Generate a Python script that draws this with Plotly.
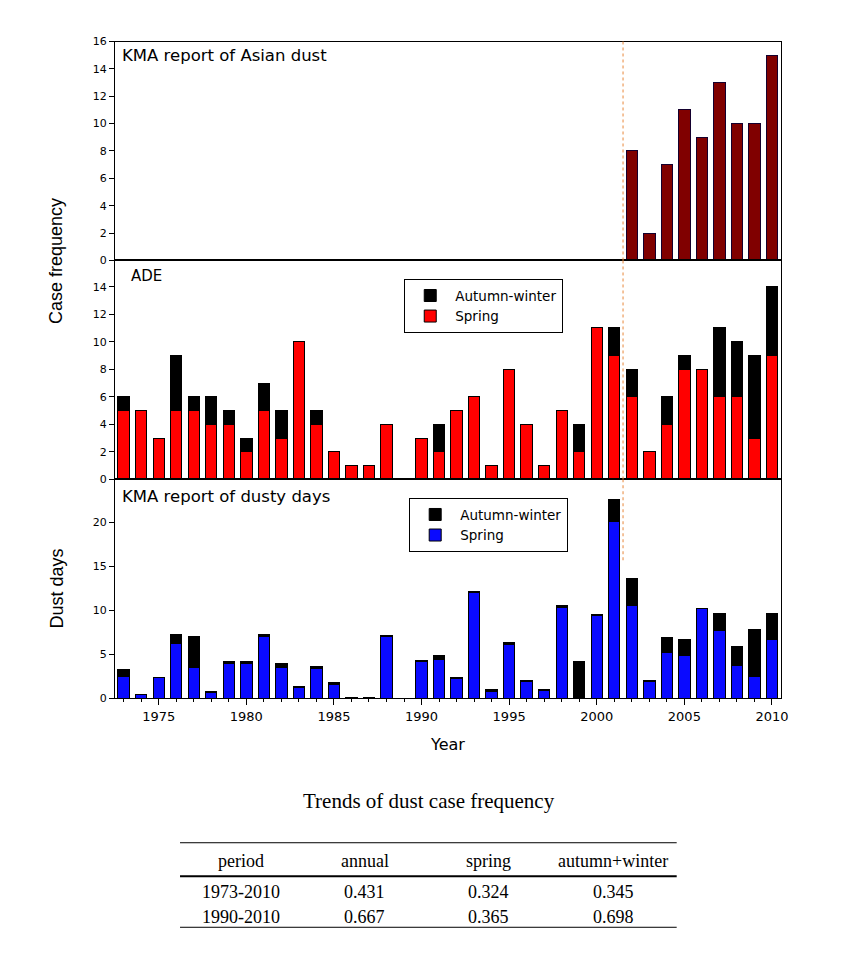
import plotly.graph_objects as go

# ---------------- data ----------------
years = list(range(1973, 2011))

# KMA report of Asian dust (2002-2010)
asian_years = list(range(2002, 2011))
asian_cases = [8, 2, 7, 11, 9, 13, 10, 10, 15]

# ADE case frequency (1973-2010)
ade_spring = [5, 5, 3, 5, 5, 4, 4, 2, 5, 3, 10, 4, 2, 1, 1, 4, 0,
              3, 2, 5, 6, 1, 8, 4, 1, 5, 2, 11, 9, 6, 2, 4, 8, 8, 6, 6, 3, 9]
ade_autumn_winter = [1, 0, 0, 4, 1, 2, 1, 1, 2, 2, 0, 1, 0, 0, 0, 0, 0,
                     0, 2, 0, 0, 0, 0, 0, 0, 0, 2, 0, 2, 2, 0, 2, 1, 0, 5, 4, 6, 5]

# KMA report of dusty days (1973-2010)
dust_spring = [2.5, 0.4, 2.3, 6.2, 3.5, 0.6, 4.0, 4.0, 7.05, 3.5, 1.25, 3.4, 1.6, 0.1, 0.1, 7.05, 0,
               4.15, 4.4, 2.25, 12.0, 0.8, 6.15, 1.9, 0.85, 10.3, 0, 9.45, 20.15, 10.6, 1.9, 5.15,
               4.9, 10.15, 7.7, 3.7, 2.45, 6.65]
dust_autumn_winter = [0.75, 0, 0.1, 1.1, 3.5, 0.15, 0.15, 0.15, 0.25, 0.4, 0.05, 0.15, 0.15, 0, 0, 0.1, 0,
                      0.1, 0.4, 0.15, 0.1, 0.2, 0.15, 0.1, 0.15, 0.2, 4.15, 0.05, 2.45, 3.0, 0.1, 1.75,
                      1.8, 0.1, 1.9, 2.2, 5.35, 2.95]

split_year = 2001.5
split_line_bottom_end = 15.7   # where the dotted line stops in the lower panel

# trend table
table_title = "Trends of dust case frequency"
table_header = ["period", "annual", "spring", "autumn+winter"]
table_periods = ["1973-2010", "1990-2010"]
trend_annual = ["0.431", "0.667"]
trend_spring = ["0.324", "0.365"]
trend_autumn_winter = ["0.345", "0.698"]

# ---------------- layout helpers ----------------
W, H = 867, 954
def px(x):
    return x / W
def py(y):
    return 1 - y / H

x_dom = [px(116), px(788)]
x_rng = [1972.5, 2010.5]
top_dom = [py(258), py(36)]
mid_dom = [py(480), py(258)]
bot_dom = [py(701.7), py(480)]

SANS = "DejaVu Sans"
TICKFONT = dict(family=SANS, size=11, color="black")

fig = go.Figure()

fig.add_trace(go.Bar(x=asian_years, y=asian_cases, xaxis="x", yaxis="y",
                     marker=dict(color="#800000", line=dict(color="#14002e", width=1)),
                     showlegend=False, name="KMA Asian dust"))

fig.add_trace(go.Bar(x=years, y=ade_spring, xaxis="x2", yaxis="y2", name="Spring",
                     marker=dict(color="#ff0000", line=dict(color="black", width=1)),
                     legend="legend"))
fig.add_trace(go.Bar(x=years, y=ade_autumn_winter, xaxis="x2", yaxis="y2", name="Autumn-winter",
                     marker=dict(color="black", line=dict(color="black", width=1)),
                     legend="legend"))

fig.add_trace(go.Bar(x=years, y=dust_spring, xaxis="x3", yaxis="y3", name="Spring",
                     marker=dict(color="#0a0aff", line=dict(color="black", width=1)),
                     legend="legend2"))
fig.add_trace(go.Bar(x=years, y=dust_autumn_winter, xaxis="x3", yaxis="y3", name="Autumn-winter",
                     marker=dict(color="black", line=dict(color="black", width=1)),
                     legend="legend2"))

common_x = dict(domain=x_dom, range=x_rng, showline=True, linecolor="black", linewidth=1,
                mirror=True, showgrid=False, zeroline=False)
common_y = dict(showline=True, linecolor="black", linewidth=1, mirror=True, showgrid=False,
                zeroline=False, ticks="outside", ticklen=5, tickcolor="black", tickwidth=1,
                tickfont=TICKFONT)

legend_style = dict(bgcolor="white", bordercolor="black", borderwidth=1,
                    font=dict(family=SANS, size=13.5, color="black"),
                    traceorder="reversed", xanchor="left", yanchor="top",
                    itemwidth=40, tracegroupgap=0)

fig.update_layout(
    width=W, height=H, autosize=False,
    margin=dict(l=0, r=0, t=0, b=0),
    paper_bgcolor="white", plot_bgcolor="white",
    barmode="stack", bargap=0.35,
    xaxis=dict(**common_x, anchor="y", showticklabels=False, ticks=""),
    xaxis2=dict(**common_x, anchor="y2", showticklabels=False, ticks=""),
    xaxis3=dict(**common_x, anchor="y3", ticks="outside", tick0=1975, dtick=5, ticklen=6,
                tickcolor="black", tickfont=dict(family=SANS, size=13, color="black"),
                minor=dict(dtick=1, ticks="outside", ticklen=3, tickcolor="black")),
    yaxis=dict(**common_y, domain=top_dom, anchor="x", range=[0, 16], dtick=2),
    yaxis2=dict(**common_y, domain=mid_dom, anchor="x2", range=[0, 15.9], dtick=2,
                tickvals=[0, 2, 4, 6, 8, 10, 12, 14]),
    yaxis3=dict(**common_y, domain=bot_dom, anchor="x3", range=[0, 24.9], dtick=5),
    legend=dict(**legend_style, x=px(408), y=py(277)),
    legend2=dict(**legend_style, x=px(413), y=py(499)),
)

# dotted split line
line_style = dict(color="#e8883a", width=1, dash="dot")
fig.add_shape(type="line", xref="x", yref="y domain", x0=split_year, x1=split_year, y0=0, y1=1,
              line=line_style)
fig.add_shape(type="line", xref="x2", yref="y2 domain", x0=split_year, x1=split_year, y0=0, y1=1,
              line=line_style)
fig.add_shape(type="line", xref="x3", yref="y3", x0=split_year, x1=split_year,
              y0=split_line_bottom_end, y1=24.9, line=line_style)

# panel labels
panel_font = dict(family=SANS, size=16.5, color="black")
fig.add_annotation(text="KMA report of Asian dust", xref="paper", yref="paper",
                   x=px(121), y=py(50), xanchor="left", yanchor="middle", showarrow=False,
                   font=panel_font)
fig.add_annotation(text="ADE", xref="paper", yref="paper",
                   x=px(130), y=py(274), xanchor="left", yanchor="middle", showarrow=False,
                   font=dict(family=SANS, size=15, color="black"))
fig.add_annotation(text="KMA report of dusty days", xref="paper", yref="paper",
                   x=px(121), y=py(497), xanchor="left", yanchor="middle", showarrow=False,
                   font=panel_font)

# axis titles
title_font = dict(family="Liberation Sans", size=18, color="black")
fig.add_annotation(text="Case frequency", xref="paper", yref="paper", x=px(57), y=py(258),
                   textangle=-90, showarrow=False, font=title_font,
                   xanchor="center", yanchor="middle")
fig.add_annotation(text="Dust days", xref="paper", yref="paper", x=px(57), y=py(590),
                   textangle=-90, showarrow=False, font=title_font,
                   xanchor="center", yanchor="middle")
fig.add_annotation(text="Year", xref="paper", yref="paper", x=px(452), y=py(749),
                   showarrow=False, font=dict(family=SANS, size=16, color="black"),
                   xanchor="center", yanchor="middle")

# ---------------- trend table ----------------
SERIF = "Liberation Serif"
fig.add_annotation(text=table_title, xref="paper", yref="paper", x=px(433), y=py(806),
                   showarrow=False, font=dict(family=SERIF, size=21, color="black"),
                   xanchor="center", yanchor="middle")
col_x = [243, 368, 493, 619]
row_y = [866.7, 898.3, 924]
rows = [table_header] + [list(r) for r in zip(table_periods, trend_annual, trend_spring,
                                                 trend_autumn_winter)]
for ry, row in zip(row_y, rows):
    for cx, txt in zip(col_x, row):
        fig.add_annotation(text=txt, xref="paper", yref="paper", x=px(cx), y=py(ry),
                           showarrow=False, font=dict(family=SERIF, size=18, color="black"),
                           xanchor="center", yanchor="middle")
for yline, lw in [(848.3, 1), (882.3, 2), (934, 1)]:
    fig.add_shape(type="line", xref="paper", yref="paper", x0=px(181.7), x1=px(683),
                  y0=py(yline), y1=py(yline), line=dict(color="black", width=lw))

fig.write_html(
    "out.html",
    config={"displayModeBar": False},
    post_script="document.body.style.margin='0';document.body.style.overflow='hidden';",
)
